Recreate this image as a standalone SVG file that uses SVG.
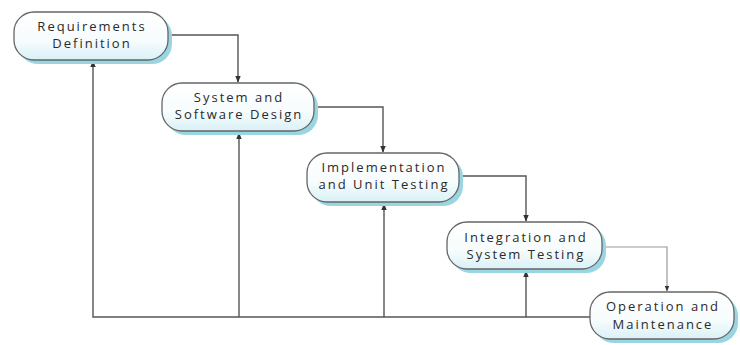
<svg xmlns="http://www.w3.org/2000/svg" width="740" height="345" viewBox="0 0 740 345">
<defs>
<linearGradient id="fillg" x1="0" y1="0" x2="0" y2="1">
<stop offset="0" stop-color="#ffffff"/>
<stop offset="0.6" stop-color="#f7fcfd"/>
<stop offset="1" stop-color="#d9f1f7"/>
</linearGradient>
<marker id="arr" viewBox="0 0 10 10" refX="9" refY="5" markerWidth="5" markerHeight="5" orient="auto">
<path d="M0,1 L10,5 L0,9 Z" fill="#333"/>
</marker>
<style>
.shadow{fill:#9ad5e3;}
.box{fill:url(#fillg);stroke:#666;stroke-width:1.3;}
.lbl{font-family:"Open Sans","DejaVu Sans",sans-serif;font-size:13px;letter-spacing:2px;fill:#2a2a2a;text-anchor:middle;}
.conn{fill:none;stroke:#555;stroke-width:1.4;}
.conn2{fill:none;stroke:#999;stroke-width:1.2;}
</style>
</defs>
<rect width="740" height="345" fill="#ffffff"/>
<g id="connectors">
<path class="conn" d="M168,35 H238 V82" marker-end="url(#arr)"/>
<path class="conn" d="M312,107 H383 V152" marker-end="url(#arr)"/>
<path class="conn" d="M459,176 H526 V221" marker-end="url(#arr)"/>
<path class="conn2" d="M602,247 H667 V291" marker-end="url(#arr)"/>
<path class="conn" d="M590,317 H93 V61" marker-end="url(#arr)"/>
<path class="conn" d="M239,317 V133" marker-end="url(#arr)"/>
<path class="conn" d="M384,317 V204" marker-end="url(#arr)"/>
<path class="conn" d="M526,317 V271" marker-end="url(#arr)"/>
</g>
<g id="n1">
<rect class="shadow" x="18" y="16" width="154" height="48" rx="20"/>
<rect class="box" x="14" y="12" width="154" height="48" rx="20"/>
<text class="lbl" x="92" y="31">Requirements</text>
<text class="lbl" x="92" y="48">Definition</text>
</g>
<g id="n2">
<rect class="shadow" x="166" y="87" width="152" height="48" rx="20"/>
<rect class="box" x="162" y="83" width="152" height="48" rx="20"/>
<text class="lbl" x="239" y="102">System and</text>
<text class="lbl" x="239" y="119">Software Design</text>
</g>
<g id="n3">
<rect class="shadow" x="311" y="157" width="152" height="49" rx="20"/>
<rect class="box" x="307" y="153" width="152" height="49" rx="20"/>
<text class="lbl" x="384" y="172">Implementation</text>
<text class="lbl" x="384" y="189">and Unit Testing</text>
</g>
<g id="n4">
<rect class="shadow" x="451" y="226" width="155" height="47" rx="20"/>
<rect class="box" x="447" y="222" width="155" height="47" rx="20"/>
<text class="lbl" x="526" y="242">Integration and</text>
<text class="lbl" x="526" y="259">System Testing</text>
</g>
<g id="n5">
<rect class="shadow" x="594" y="296" width="144" height="47" rx="20"/>
<rect class="box" x="590" y="292" width="144" height="47" rx="20"/>
<text class="lbl" x="663" y="311">Operation and</text>
<text class="lbl" x="663" y="329">Maintenance</text>
</g>
</svg>
